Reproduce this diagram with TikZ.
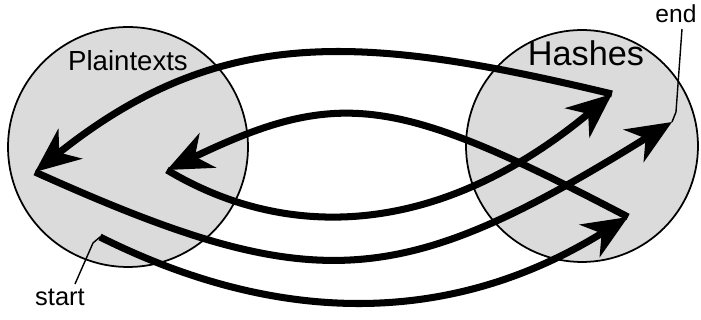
\documentclass[tikz,border=0pt]{standalone}
\usepackage{fontspec}
\setmainfont{Liberation Sans}
\usetikzlibrary{arrows.meta,positioning}

\begin{document}
\begin{tikzpicture}[
  x=0.02cm,y=-0.02cm,
  set/.style={circle,draw=black,line width=1pt,fill=black!14,inner sep=0pt,minimum size=#1},
  chain/.style={line width=4pt,-{Stealth[length=0.9cm,width=0.76cm,inset=0.28cm]}},
  leader/.style={line width=0.8pt},
  lbl/.style={inner sep=0pt,font=\fontsize{#1}{#1}\selectfont},
]
\useasboundingbox (0,0) rectangle (701,320);

% the two sets
\node[set=4.8cm] (plain) at (128,147) {};
\node[set=4.64cm] (hash) at (582,146) {};
\node[lbl=15.7pt] (plainlbl) at (128,61) {Plaintexts};
\node[lbl=19.5pt] (hashlbl) at (586,53) {Hashes};

% chain points
\coordinate (start) at (100,237);
\coordinate (p1) at (35,172);
\coordinate (p2) at (167,170);
\coordinate (h1) at (612,94);
\coordinate (h3) at (628,217);
\coordinate (stop) at (672,122);

% alternating steps
\draw[chain] (start) .. controls +(178,89) and +(-177,110) .. (h3);
\draw[chain] (h3) .. controls +(-231,-121) and +(173,-83) .. (p2);
\draw[chain] (p2) .. controls +(120,72) and +(-173,144) .. (h1);
\draw[chain] (h1) .. controls +(-250,-60) and +(185,-148) .. (p1);
\draw[chain] (p1) .. controls +(280,126) and +(-274,170) .. (stop);

% start / end marks
\node[lbl=14.5pt] (startlbl) at (60,297) {start};
\node[lbl=14pt] (endlbl) at (676,14) {end};
\draw[leader] (75,284) -- (93,243) -- (start);
\draw[leader] (682,29) -- (676,112) -- (stop);
\end{tikzpicture}
\end{document}
